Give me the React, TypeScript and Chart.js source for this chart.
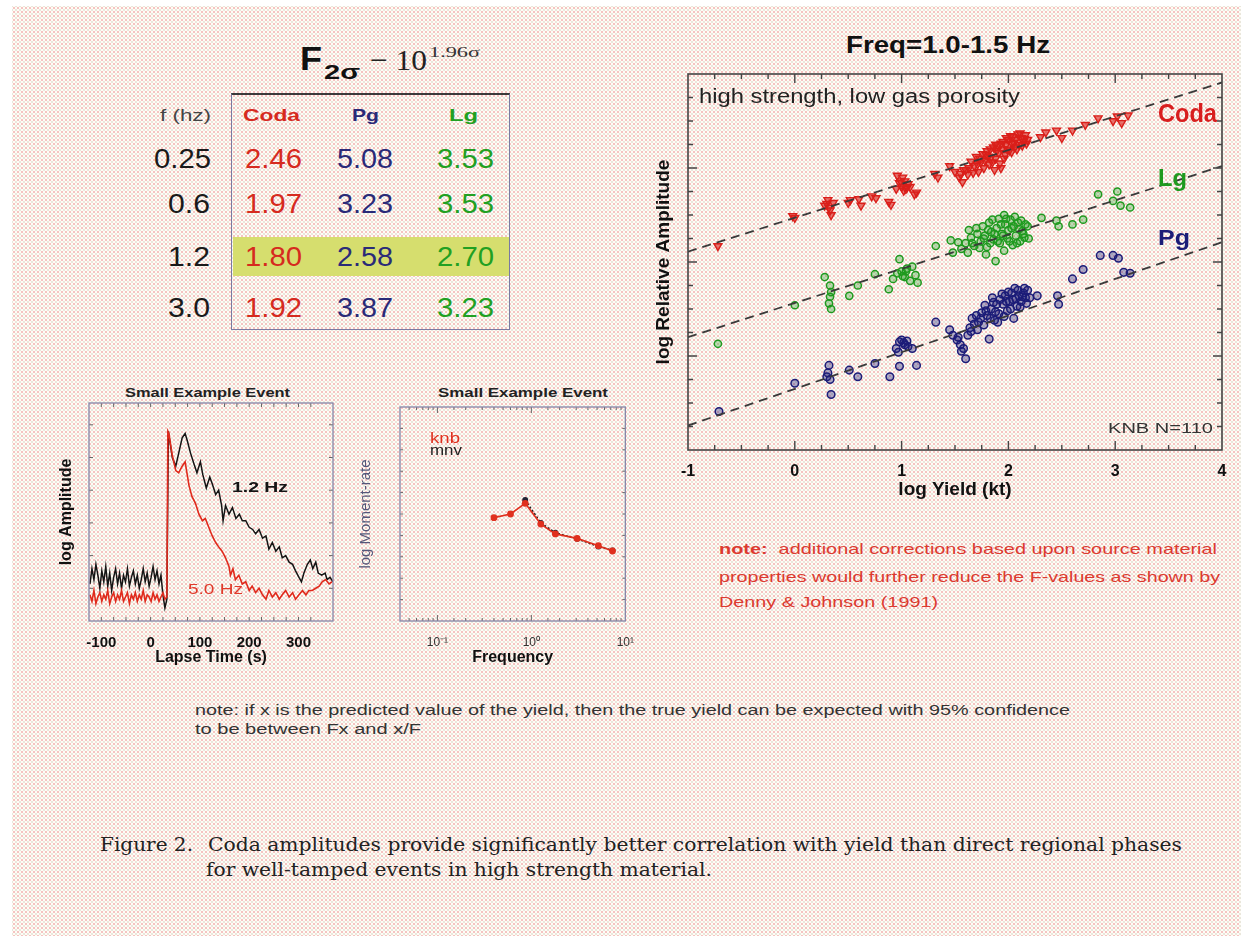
import React, { useEffect, useLayoutEffect, useRef } from 'react';
import { Chart, registerables } from 'chart.js';

Chart.register(...registerables);

const SANS = '"Liberation Sans", Arial, Helvetica, sans-serif';
const SERIF = '"DejaVu Serif", "Liberation Serif", serif';
const TSERIF = '"Liberation Serif", "Times New Roman", serif';

// ---------- table data ----------
const TABLE_FREQS = ['0.25', '0.6', '1.2', '3.0'];
const TABLE_PHASES = ['Coda', 'Pg', 'Lg'];
const F_CODA = ['2.46', '1.97', '1.80', '1.92'];
const F_PG = ['5.08', '3.23', '2.58', '3.87'];
const F_LG = ['3.53', '3.53', '2.70', '3.23'];

// ---------- main scatter data (log yield, log relative amplitude) ----------
const CODA_PTS: [number, number][] = [
  [-0.72, 1.17], [0.0, 1.47], [-0.02, 1.49],
  [0.30, 1.62], [0.32, 1.58], [0.33, 1.55], [0.34, 1.50], [0.28, 1.60], [0.36, 1.63], [0.31, 1.66],
  [0.52, 1.66], [0.50, 1.63], [0.60, 1.67], [0.62, 1.60], [0.72, 1.70], [0.76, 1.68],
  [0.88, 1.64], [0.90, 1.61], [0.96, 1.92], [0.98, 1.84], [1.00, 1.80], [1.03, 1.86],
  [1.06, 1.83], [0.95, 1.78], [1.02, 1.76], [1.08, 1.80], [1.12, 1.72], [1.14, 1.74],
  [1.01, 1.90], [1.04, 1.78], [0.99, 1.86], [1.05, 1.79],
  [1.31, 1.94], [1.34, 1.90], [1.45, 2.02], [1.50, 1.96], [1.54, 1.90], [1.57, 1.85],
  [1.55, 1.94], [1.58, 1.98], [1.63, 2.00], [1.67, 1.95], [1.71, 2.04], [1.73, 2.10],
  [1.60, 1.98], [1.62, 1.93], [1.65, 2.07], [1.68, 2.02], [1.70, 2.12], [1.72, 1.96],
  [1.74, 2.06], [1.76, 2.15], [1.78, 2.08], [1.77, 2.00], [1.79, 2.14], [1.80, 2.18],
  [1.81, 2.12], [1.82, 2.04], [1.83, 2.20], [1.84, 2.12], [1.85, 2.06], [1.86, 2.22],
  [1.88, 2.10], [1.88, 2.25], [1.89, 2.18], [1.90, 2.24], [1.91, 2.16], [1.92, 2.05],
  [1.93, 2.26], [1.94, 2.20], [1.95, 2.28], [1.96, 2.10], [1.97, 2.14], [1.98, 2.25],
  [1.98, 2.32], [1.99, 2.20], [2.00, 2.30], [2.01, 2.19], [2.02, 2.34], [2.03, 2.26],
  [2.03, 2.17], [2.04, 2.33], [2.05, 2.27], [2.06, 2.22], [2.07, 2.30], [2.08, 2.20],
  [2.09, 2.36], [2.10, 2.25], [2.11, 2.37], [2.12, 2.32], [2.13, 2.24], [2.14, 2.28],
  [2.15, 2.31], [2.16, 2.35], [2.17, 2.26], [2.18, 2.30], [1.93, 2.00], [1.87, 1.98],
  [2.30, 2.33], [2.35, 2.38], [2.45, 2.40], [2.50, 2.32], [2.60, 2.40], [2.72, 2.46],
  [2.84, 2.53], [2.98, 2.50], [3.02, 2.55], [3.06, 2.48], [3.12, 2.56],
];

const LG_PTS: [number, number][] = [
  [-0.72, 0.13], [0.0, 0.54], [0.28, 0.84], [0.33, 0.75], [0.34, 0.68], [0.33, 0.63],
  [0.32, 0.56], [0.34, 0.50], [0.51, 0.64], [0.59, 0.75], [0.75, 0.87], [0.88, 0.71],
  [0.92, 0.82], [0.96, 0.88], [0.98, 1.03], [1.00, 0.90], [1.03, 0.84], [1.05, 0.93],
  [1.08, 0.80], [1.10, 0.95], [1.13, 0.86], [1.15, 0.78], [1.01, 0.85], [1.04, 0.90],
  [1.32, 1.17],
  [1.46, 1.23], [1.48, 1.10], [1.53, 1.21], [1.56, 1.14], [1.60, 1.20], [1.62, 1.10],
  [1.63, 1.34], [1.65, 1.26], [1.66, 1.20], [1.68, 1.17], [1.70, 1.36], [1.71, 1.30],
  [1.73, 1.15], [1.74, 1.22], [1.76, 1.38], [1.77, 1.25], [1.78, 1.28], [1.79, 1.08],
  [1.80, 1.16], [1.81, 1.34], [1.82, 1.42], [1.83, 1.20], [1.84, 1.32], [1.85, 1.45],
  [1.86, 1.24], [1.87, 1.30], [1.88, 1.01], [1.89, 1.36], [1.90, 1.22], [1.91, 1.46],
  [1.92, 1.20], [1.93, 1.40], [1.94, 1.30], [1.95, 1.28], [1.96, 1.50], [1.96, 1.12],
  [1.97, 1.40], [1.98, 1.46], [1.99, 1.25], [2.00, 1.34], [2.01, 1.22], [2.02, 1.45],
  [2.03, 1.36], [2.04, 1.18], [2.05, 1.38], [2.06, 1.48], [2.07, 1.28], [2.08, 1.20],
  [2.09, 1.42], [2.10, 1.35], [2.11, 1.22], [2.12, 1.44], [2.13, 1.33], [2.14, 1.30],
  [2.15, 1.26], [2.16, 1.40], [2.18, 1.38], [2.19, 1.25],
  [2.31, 1.47], [2.45, 1.44], [2.47, 1.38], [2.60, 1.40], [2.70, 1.45], [2.84, 1.72],
  [2.98, 1.65], [3.02, 1.75], [3.05, 1.60], [3.14, 1.58],
];

const PG_PTS: [number, number][] = [
  [-0.71, -0.59], [0.0, -0.29], [0.32, -0.10], [0.30, -0.22], [0.33, -0.25], [0.34, -0.41],
  [0.31, -0.18], [0.51, -0.15], [0.59, -0.22], [0.75, -0.08], [0.89, -0.22], [0.98, -0.11],
  [1.14, -0.10], [0.95, 0.08], [0.98, 0.15], [1.00, 0.17], [1.03, 0.12], [1.06, 0.10],
  [1.10, 0.08], [0.97, 0.04], [1.02, 0.14], [1.05, 0.16], [1.32, 0.36],
  [1.45, 0.28], [1.48, 0.22], [1.52, 0.17], [1.53, 0.20], [1.55, 0.12], [1.56, 0.05],
  [1.58, 0.08], [1.60, -0.03], [1.62, 0.22], [1.64, 0.30], [1.65, 0.26], [1.66, 0.40],
  [1.68, 0.34], [1.70, 0.43], [1.71, 0.28], [1.72, 0.36], [1.74, 0.40], [1.75, 0.46],
  [1.77, 0.33], [1.78, 0.54], [1.79, 0.48], [1.80, 0.43], [1.82, 0.18], [1.83, 0.40],
  [1.84, 0.50], [1.85, 0.62], [1.86, 0.57], [1.87, 0.38], [1.88, 0.47], [1.89, 0.55],
  [1.90, 0.36], [1.91, 0.45], [1.92, 0.60], [1.94, 0.66], [1.95, 0.55], [1.96, 0.42],
  [1.97, 0.64], [1.98, 0.58], [1.99, 0.48], [2.00, 0.68], [2.01, 0.58], [2.02, 0.50],
  [2.03, 0.67], [2.04, 0.60], [2.05, 0.40], [2.06, 0.72], [2.07, 0.61], [2.08, 0.53],
  [2.09, 0.70], [2.10, 0.64], [2.11, 0.52], [2.12, 0.58], [2.13, 0.63], [2.14, 0.67],
  [2.15, 0.72], [2.16, 0.62], [2.17, 0.56], [2.18, 0.70], [2.20, 0.62],
  [2.27, 0.64], [2.46, 0.64], [2.47, 0.55], [2.60, 0.82], [2.70, 0.92], [2.86, 1.07],
  [2.98, 1.07], [3.03, 1.04], [3.08, 0.89], [3.14, 0.88],
];

const CODA_FIT: [number, number][] = [[-1, 1.11], [4, 2.91]];
const LG_FIT: [number, number][] = [[-1, 0.20], [4, 2.02]];
const PG_FIT: [number, number][] = [[-1, -0.74], [4, 1.21]];

// ---------- small example event: lapse-time traces (s, relative log amp) ----------
const TRACE_12HZ: [number, number][] = [
  [-123, 0.17], [-119, 0.24], [-115, 0.19], [-111, 0.26], [-107, 0.21], [-103, 0.15], [-99, 0.23],
  [-95, 0.18], [-91, 0.25], [-87, 0.16], [-83, 0.22], [-79, 0.14], [-75, 0.20], [-71, 0.24],
  [-67, 0.17], [-63, 0.22], [-59, 0.15], [-55, 0.21], [-51, 0.18], [-47, 0.24], [-43, 0.16],
  [-39, 0.20], [-35, 0.23], [-31, 0.17], [-27, 0.21], [-23, 0.15], [-19, 0.19], [-15, 0.24],
  [-11, 0.18], [-7, 0.22], [-3, 0.16], [1, 0.20], [5, 0.25], [9, 0.19], [13, 0.23], [17, 0.17],
  [21, 0.21], [25, 0.12], [29, 0.06], [33, 0.10],
  [36, 0.87], [44, 0.75], [51, 0.71], [57, 0.77], [64, 0.84], [70, 0.86], [74, 0.83], [81, 0.77],
  [88, 0.72], [94, 0.68], [101, 0.73], [106, 0.67], [113, 0.61], [120, 0.66], [125, 0.63],
  [132, 0.58], [138, 0.60], [144, 0.53], [147, 0.46], [152, 0.53], [159, 0.49], [166, 0.52],
  [173, 0.47], [180, 0.49], [186, 0.46], [193, 0.46], [200, 0.43], [207, 0.42], [213, 0.40],
  [220, 0.42], [227, 0.38], [234, 0.39], [240, 0.33], [247, 0.36], [254, 0.32], [261, 0.34],
  [267, 0.29], [274, 0.30], [281, 0.27], [288, 0.26], [294, 0.23], [301, 0.20], [306, 0.18],
  [311, 0.22], [318, 0.26], [324, 0.28], [329, 0.24], [335, 0.27], [340, 0.22], [347, 0.21],
  [354, 0.22], [358, 0.19], [364, 0.20], [370, 0.18],
];

const TRACE_50HZ: [number, number][] = [
  [-123, 0.12], [-119, 0.09], [-115, 0.14], [-111, 0.08], [-107, 0.11], [-103, 0.13], [-99, 0.09],
  [-95, 0.12], [-91, 0.10], [-87, 0.14], [-83, 0.08], [-79, 0.11], [-75, 0.13], [-71, 0.09],
  [-67, 0.12], [-63, 0.10], [-59, 0.14], [-55, 0.09], [-51, 0.11], [-47, 0.13], [-43, 0.08],
  [-39, 0.12], [-35, 0.10], [-31, 0.13], [-27, 0.09], [-23, 0.12], [-19, 0.10], [-15, 0.14],
  [-11, 0.09], [-7, 0.12], [-3, 0.11], [1, 0.09], [5, 0.13], [9, 0.10], [13, 0.12], [17, 0.09],
  [21, 0.11], [25, 0.13], [29, 0.10], [33, 0.11],
  [35, 0.87], [37, 0.86], [44, 0.76], [51, 0.69], [57, 0.68], [64, 0.71], [70, 0.73], [78, 0.62],
  [84, 0.57], [91, 0.54], [98, 0.49], [105, 0.46], [111, 0.47], [118, 0.43], [125, 0.39],
  [132, 0.36], [138, 0.34], [145, 0.32], [152, 0.29], [159, 0.25], [162, 0.21], [167, 0.24],
  [172, 0.19], [179, 0.21], [186, 0.17], [193, 0.18], [200, 0.14], [206, 0.16], [213, 0.13],
  [220, 0.15], [227, 0.12], [234, 0.10], [240, 0.14], [247, 0.11], [254, 0.13], [261, 0.10],
  [267, 0.12], [274, 0.14], [281, 0.11], [288, 0.13], [294, 0.10], [301, 0.12], [308, 0.14],
  [315, 0.12], [321, 0.14], [328, 0.14], [335, 0.15], [342, 0.16], [348, 0.18], [355, 0.19],
  [362, 0.17], [368, 0.18],
];

// ---------- small example event: moment-rate spectra (Hz, relative log moment-rate) ----------
const KNB_SPEC: [number, number][] = [
  [0.40, 0.483], [0.60, 0.50], [0.86, 0.55], [1.26, 0.453], [1.80, 0.407], [3.07, 0.386],
  [5.16, 0.352], [7.3, 0.327],
];
const MNV_SPEC: [number, number][] = [
  [0.86, 0.565], [1.26, 0.458], [1.80, 0.412], [3.07, 0.384], [5.16, 0.348], [7.3, 0.33],
];

const SUP: Record<string, string> = { '-1': '\u207B\u00B9', '0': '\u2070', '1': '\u00B9' };

const toXY = (a: [number, number][]) => a.map(([x, y]) => ({ x, y }));

// ---------- plugin: inward ticks + frame ----------
const frameTicks = {
  id: 'frameTicks',
  afterDatasetsDraw(chart: any, _args: any, o: any) {
    if (!o || !o.frame) return;
    const { ctx, chartArea: a, scales } = chart;
    const isMajor = (v: number, every: number, log: boolean) => {
      if (log) {
        const l = Math.log10(v);
        return Math.abs(l - Math.round(l)) < 1e-6;
      }
      const r = v / every;
      return Math.abs(r - Math.round(r)) < 1e-6;
    };
    ctx.save();
    ctx.strokeStyle = o.tick;
    ctx.lineWidth = o.tickWidth;
    ctx.beginPath();
    const xs = scales.x;
    xs.ticks.forEach((t: any) => {
      const p = xs.getPixelForValue(t.value);
      if (p <= a.left + 1 || p >= a.right - 1) return;
      const L = isMajor(t.value, o.xMajor, o.xLog) ? o.major : o.minor;
      ctx.moveTo(p, a.bottom);
      ctx.lineTo(p, a.bottom - L);
      ctx.moveTo(p, a.top);
      ctx.lineTo(p, a.top + L);
    });
    const ys = scales.y;
    ys.ticks.forEach((t: any) => {
      const p = ys.getPixelForValue(t.value);
      if (p <= a.top + 1 || p >= a.bottom - 1) return;
      const L = isMajor(t.value, o.yMajor, false) ? o.major : o.minor;
      ctx.moveTo(a.left, p);
      ctx.lineTo(a.left + L, p);
      ctx.moveTo(a.right, p);
      ctx.lineTo(a.right - L, p);
    });
    ctx.stroke();
    ctx.strokeStyle = o.frame;
    ctx.lineWidth = o.frameWidth;
    ctx.strokeRect(a.left, a.top, a.right - a.left, a.bottom - a.top);
    ctx.restore();
  },
};

const noGrid = { display: false };
const noBorder = { display: false };

function mainConfig(): any {
  const fit = (d: [number, number][]) => ({
    data: toXY(d), showLine: true, borderColor: '#3a3a3a', borderWidth: 1.8, borderDash: [9, 6],
    pointRadius: 0, order: 0,
  });
  return {
    type: 'scatter',
    data: {
      datasets: [
        { label: 'Coda fit', ...fit(CODA_FIT) },
        { label: 'Lg fit', ...fit(LG_FIT) },
        { label: 'Pg fit', ...fit(PG_FIT) },
        {
          label: 'Coda', data: toXY(CODA_PTS), pointStyle: 'triangle', pointRotation: 180, pointRadius: 4.6,
          borderColor: '#da1f1a', backgroundColor: 'rgba(218,31,26,0.6)', pointBorderWidth: 1.4, order: 1,
        },
        {
          label: 'Lg', data: toXY(LG_PTS), pointStyle: 'circle', pointRadius: 3.6,
          borderColor: '#1f9a1f', backgroundColor: 'rgba(31,154,31,0.3)', pointBorderWidth: 1.5, order: 1,
        },
        {
          label: 'Pg', data: toXY(PG_PTS), pointStyle: 'circle', pointRadius: 3.8,
          borderColor: '#1c1c78', backgroundColor: 'rgba(28,28,120,0.35)', pointBorderWidth: 1.5, order: 1,
        },
      ],
    },
    options: {
      responsive: false,
      animation: false,
      events: [],
      layout: { padding: { top: 54, right: 18, left: 0, bottom: 0 } },
      plugins: {
        legend: { display: false },
        tooltip: { enabled: false },
        frameTicks: { frame: '#444', frameWidth: 1.6, tick: '#444', tickWidth: 1.4, major: 9, minor: 5, xMajor: 1, yMajor: 1, xLog: false },
      },
      scales: {
        x: {
          type: 'linear', min: -1, max: 4,
          afterFit: (s: any) => { s.height = 50; },
          grid: noGrid, border: noBorder,
          ticks: {
            stepSize: 0.25, autoSkip: false, maxRotation: 0, padding: 4, color: '#111',
            font: { family: SANS, size: 16, weight: 'bold' },
            callback: (v: any) => (Math.abs(v - Math.round(v)) < 1e-6 ? String(Math.round(v)) : ''),
          },
          title: {
            display: true, text: 'log Yield (kt)', color: '#111',
            font: { family: SANS, size: 19, weight: 'bold', lineHeight: 1.1 }, padding: { top: 0, bottom: 0 },
          },
        },
        y: {
          type: 'linear', min: -1, max: 3,
          afterFit: (s: any) => { s.width = 48; },
          grid: noGrid, border: noBorder,
          ticks: { stepSize: 0.25, display: false },
          title: {
            display: true, text: 'log Relative Amplitude', color: '#111',
            font: { family: SANS, size: 19, weight: 'bold', lineHeight: 1.1 }, padding: { top: 13, bottom: 0 },
          },
        },
      },
    },
    plugins: [frameTicks],
  };
}

function traceConfig(): any {
  return {
    type: 'scatter',
    data: {
      datasets: [
        { label: '5.0 Hz', data: toXY(TRACE_50HZ), showLine: true, borderColor: '#e02a1c', borderWidth: 1.6, pointRadius: 0, order: 0 },
        { label: '1.2 Hz', data: toXY(TRACE_12HZ), showLine: true, borderColor: '#151515', borderWidth: 1.5, pointRadius: 0, order: 1 },
      ],
    },
    options: {
      responsive: false,
      animation: false,
      events: [],
      layout: { padding: { top: 23, right: 7, left: 0, bottom: 0 } },
      plugins: {
        legend: { display: false },
        tooltip: { enabled: false },
        frameTicks: { frame: '#8486a8', frameWidth: 1.3, tick: '#666', tickWidth: 1, major: 4, minor: 4, xMajor: 100, yMajor: 1, xLog: false },
      },
      scales: {
        x: {
          type: 'linear', min: -125, max: 370,
          afterFit: (s: any) => { s.height = 49; },
          grid: noGrid, border: noBorder,
          ticks: {
            stepSize: 25, autoSkip: false, maxRotation: 0, padding: 5, color: '#111',
            font: { family: SANS, size: 15, weight: 'bold' },
            callback: (v: any) => (Math.abs(v % 100) < 1e-6 ? String(v) : ''),
          },
          title: {
            display: true, text: 'Lapse Time (s)', color: '#111',
            font: { family: SANS, size: 16, weight: 'bold', lineHeight: 1.1 }, padding: { top: 0, bottom: 4 },
          },
        },
        y: {
          type: 'linear', min: 0, max: 1,
          afterFit: (s: any) => { s.width = 59; },
          grid: noGrid, border: noBorder,
          ticks: { stepSize: 0.15, display: false },
          title: {
            display: true, text: 'log Amplitude', color: '#111',
            font: { family: SANS, size: 16, weight: 'bold', lineHeight: 1.1 }, padding: { top: 28, bottom: 0 },
          },
        },
      },
    },
    plugins: [frameTicks],
  };
}

function spectrumConfig(): any {
  return {
    type: 'scatter',
    data: {
      datasets: [
        {
          label: 'knb', data: toXY(KNB_SPEC), showLine: true, borderColor: '#e0301e', borderWidth: 1.6,
          pointRadius: 2.6, pointBackgroundColor: '#e0301e', pointBorderColor: '#e0301e', order: 0,
        },
        {
          label: 'mnv', data: toXY(MNV_SPEC), showLine: true, borderColor: '#1a1a1a', borderWidth: 1.6, borderDash: [2, 2],
          pointRadius: 2.2, pointBackgroundColor: '#223', pointBorderColor: '#223', order: 1,
        },
      ],
    },
    options: {
      responsive: false,
      animation: false,
      events: [],
      layout: { padding: { top: 27, right: 12, left: 0, bottom: 0 } },
      plugins: {
        legend: { display: false },
        tooltip: { enabled: false },
        frameTicks: { frame: '#8486a8', frameWidth: 1.3, tick: '#666', tickWidth: 1, major: 6, minor: 3, xMajor: 1, yMajor: 1, xLog: true },
      },
      scales: {
        x: {
          type: 'logarithmic', min: 0.04, max: 10,
          afterFit: (s: any) => { s.height = 49; },
          grid: noGrid, border: noBorder,
          ticks: {
            autoSkip: false, maxRotation: 0, padding: 6, color: '#333',
            font: { family: SANS, size: 12 },
            callback: (v: any) => {
              const l = Math.log10(v);
              const r = Math.round(l);
              return Math.abs(l - r) < 1e-6 ? '10' + (SUP[String(r)] || '') : '';
            },
          },
          title: {
            display: true, text: 'Frequency', color: '#111',
            font: { family: SANS, size: 16, weight: 'bold', lineHeight: 1.1 }, padding: { top: 0, bottom: 4 },
          },
        },
        y: {
          type: 'linear', min: 0, max: 1,
          afterFit: (s: any) => { s.width = 60; },
          grid: noGrid, border: noBorder,
          ticks: { stepSize: 0.1, display: false },
          title: {
            display: true, text: 'log Moment-rate', color: '#55577a',
            font: { family: SANS, size: 15, lineHeight: 1.1 }, padding: { top: 18, bottom: 0 },
          },
        },
      },
    },
    plugins: [frameTicks],
  };
}

function ChartBox({ left, top, width, height, make }: any) {
  const ref = useRef<HTMLCanvasElement>(null);
  useEffect(() => {
    const chart = new Chart(ref.current as HTMLCanvasElement, make());
    return () => chart.destroy();
  }, []);
  return <canvas ref={ref} width={width} height={height} style={{ position: 'absolute', left, top, width, height }} />;
}

function FitText({ x1, x2, cy, size, weight = 400, color = '#222', family = SANS, children }: any) {
  const ref = useRef<HTMLDivElement>(null);
  useLayoutEffect(() => {
    const el = ref.current;
    if (!el) return;
    const fit = () => {
      el.style.transform = 'none';
      const nat = el.getBoundingClientRect().width;
      if (nat > 0) el.style.transform = `scaleX(${(x2 - x1) / nat})`;
    };
    fit();
    const fonts = (document as any).fonts;
    if (fonts && fonts.ready) fonts.ready.then(fit);
  }, [x1, x2]);
  return (
    <div
      ref={ref}
      style={{
        position: 'absolute', left: x1, top: cy - size * 0.49, fontSize: size, lineHeight: 1,
        fontWeight: weight, color, fontFamily: family, whiteSpace: 'nowrap', transformOrigin: '0 0',
      }}
    >
      {children}
    </div>
  );
}

const RED = '#d62a1e';
const NAVY = '#2a2a78';
const GREEN = '#22a022';

export default function App() {
  const colX: [number, number][] = [[245, 302], [337, 393], [437, 494]];
  const rowY = [159, 204, 257, 308];
  const phaseColors = [RED, NAVY, GREEN];
  const cols = [F_CODA, F_PG, F_LG];
  const freqX: [number, number][] = [[154, 211], [168, 210], [168, 210], [168, 210]];
  const headX: [number, number][] = [[243, 300], [352, 379], [449, 478]];

  return (
    <div style={{ position: 'absolute', left: 0, top: 0, width: 1241, height: 936, overflow: 'hidden', background: '#ffffff' }}>
      {/* dithered paper background */}
      <div
        style={{
          position: 'absolute', left: 12, top: 6, width: 1229, height: 930,
          backgroundColor: '#fffcf6',
          backgroundImage:
            'radial-gradient(circle, rgba(236,150,150,0.55) 0.9px, transparent 1.2px), radial-gradient(circle, rgba(190,190,170,0.35) 0.9px, transparent 1.2px)',
          backgroundSize: '4px 4px, 4px 4px',
          backgroundPosition: '0 0, 2px 2px',
        }}
      />

      {/* formula title */}
      <FitText x1={300} x2={322} cy={57.5} size={34} weight={700} color="#111">F</FitText>
      <FitText x1={324} x2={360} cy={71} size={21} weight={700} color="#111">2σ</FitText>
      <FitText x1={370} x2={427} cy={59.5} size={30} color="#222" family={TSERIF}>− 10</FitText>
      <FitText x1={429} x2={480} cy={52.5} size={15} color="#333" family={TSERIF}>1.96σ</FitText>

      {/* table */}
      <div style={{ position: 'absolute', left: 233, top: 237, width: 276, height: 39, background: '#d6de6e' }} />
      <div
        style={{
          position: 'absolute', left: 231, top: 93, width: 279, height: 237, boxSizing: 'border-box',
          borderTop: '2px solid #3a3a3a', borderLeft: '1.5px solid #7a7aa2', borderRight: '1.5px solid #7a7aa2',
          borderBottom: '1.5px solid #7a7aa2',
        }}
      />
      <FitText x1={160} x2={211} cy={115} size={17} color="#444">f (hz)</FitText>
      {TABLE_PHASES.map((p, i) => (
        <FitText key={p} x1={headX[i][0]} x2={headX[i][1]} cy={115} size={17} weight={700} color={phaseColors[i]}>{p}</FitText>
      ))}
      {TABLE_FREQS.map((f, r) => (
        <FitText key={f} x1={freqX[r][0]} x2={freqX[r][1]} cy={rowY[r]} size={28} color="#1a1a1a">{f}</FitText>
      ))}
      {cols.map((col, c) =>
        col.map((v, r) => (
          <FitText key={`${c}-${r}`} x1={colX[c][0]} x2={colX[c][1]} cy={rowY[r]} size={28} color={phaseColors[c]}>{v}</FitText>
        )),
      )}

      {/* main chart */}
      <FitText x1={846} x2={1050} cy={45.5} size={23} weight={700} color="#111">Freq=1.0-1.5 Hz</FitText>
      <ChartBox left={640} top={20} width={600} height={480} make={mainConfig} />
      <FitText x1={699} x2={1020} cy={96} size={20} color="#222">high strength, low gas porosity</FitText>
      <FitText x1={1158} x2={1217} cy={112.5} size={26} weight={700} color="#d81e1e">Coda</FitText>
      <FitText x1={1158} x2={1187} cy={178.5} size={23} weight={700} color="#1f9a1f">Lg</FitText>
      <FitText x1={1158} x2={1190} cy={238} size={22} weight={700} color="#1c1c78">Pg</FitText>
      <FitText x1={1108} x2={1213} cy={427.5} size={15} color="#333">KNB N=110</FitText>

      {/* small example event: traces */}
      <FitText x1={125} x2={290} cy={392.5} size={13} weight={700} color="#222">Small Example Event</FitText>
      <ChartBox left={30} top={380} width={310} height={290} make={traceConfig} />
      <FitText x1={232} x2={288} cy={486} size={15} weight={700} color="#151515">1.2 Hz</FitText>
      <FitText x1={188} x2={243} cy={588.5} size={15} color="#e03a2a">5.0 Hz</FitText>

      {/* small example event: spectra */}
      <FitText x1={438} x2={608} cy={392.5} size={13} weight={700} color="#222">Small Example Event</FitText>
      <ChartBox left={340} top={380} width={300} height={290} make={spectrumConfig} />
      <FitText x1={430} x2={460} cy={437} size={15} color="#e0301e">knb</FitText>
      <FitText x1={430} x2={462} cy={450} size={14} color="#222">mnv</FitText>

      {/* red note */}
      <FitText x1={719} x2={1217} cy={548} size={15} color="#dc3a30">
        <b>note:</b>&nbsp; additional corrections based upon source material
      </FitText>
      <FitText x1={719} x2={1220} cy={576} size={15} color="#dc3a30">properties would further reduce the F-values as shown by</FitText>
      <FitText x1={719} x2={938} cy={601} size={15} color="#dc3a30">Denny &amp; Johnson (1991)</FitText>

      {/* bottom note */}
      <FitText x1={195} x2={1070} cy={710} size={14} color="#333">
        note: if x is the predicted value of the yield, then the true yield can be expected with 95% confidence
      </FitText>
      <FitText x1={195} x2={421} cy={729} size={14} color="#333">to be between Fx and x/F</FitText>

      {/* caption */}
      <FitText x1={100} x2={193} cy={845} size={18} color="#222" family={SERIF}>Figure 2.</FitText>
      <FitText x1={208} x2={1182} cy={845} size={18} color="#222" family={SERIF}>
        Coda amplitudes provide significantly better correlation with yield than direct regional phases
      </FitText>
      <FitText x1={206} x2={712} cy={870} size={18} color="#222" family={SERIF}>
        for well-tamped events in high strength material.
      </FitText>
    </div>
  );
}
